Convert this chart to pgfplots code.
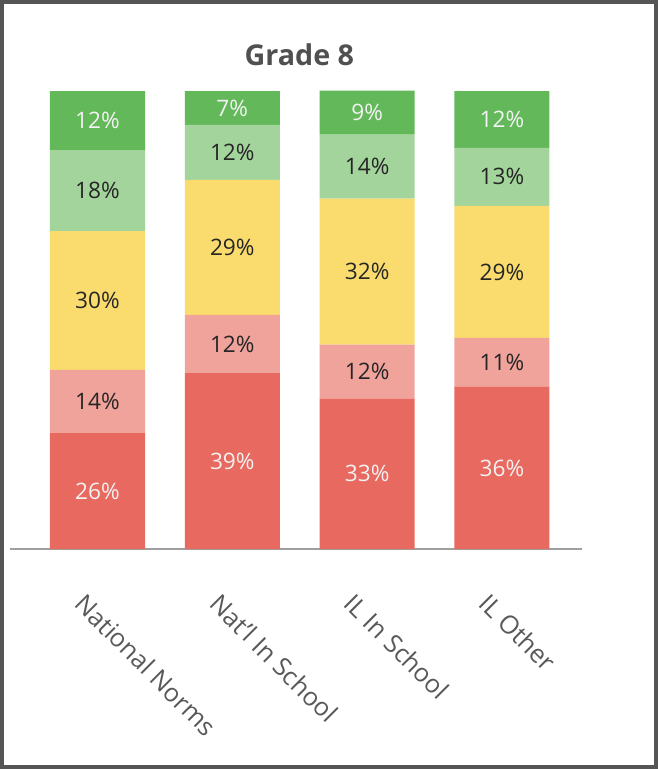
\documentclass[border=0pt]{standalone}
\usepackage{fontspec}
\setmainfont{Open Sans}
\usepackage{pgfplots}
\usepackage{pgfplotstable}
\pgfplotsset{compat=1.18}
\definecolor{cGreen}{HTML}{63B95A}
\definecolor{cLGreen}{HTML}{A3D49C}
\definecolor{cYellow}{HTML}{FADC6E}
\definecolor{cLRed}{HTML}{F0A39B}
\definecolor{cRed}{HTML}{E8695F}
\definecolor{txtdark}{HTML}{262626}
\definecolor{txtgray}{HTML}{595959}
\definecolor{framegray}{HTML}{555555}

% x = bar index, y = segment height (share of bar), lab = printed label
\pgfplotstableread{
x y lab
0 25.3 26
1 38.4 39
2 32.8 33
3 35.4 36
}\tRed
\pgfplotstableread{
x y lab
0 13.8 14
1 12.7 12
2 11.8 12
3 10.7 11
}\tLRed
\pgfplotstableread{
x y lab
0 30.3 30
1 29.5 29
2 31.9 32
3 28.8 29
}\tYellow
\pgfplotstableread{
x y lab
0 17.7 18
1 12.0 12
2 14.0 14
3 12.7 13
}\tLGreen
\pgfplotstableread{
x y lab
0 12.9 12
1 7.4 7
2 9.6 9
3 12.4 12
}\tGreen

\begin{document}
\begin{tikzpicture}
\useasboundingbox (0,0) rectangle (493.5pt,-576.75pt);
\fill[white] (0,0) rectangle (493.5pt,-576.75pt);
\node[font=\fontsize{21.5pt}{25pt}\selectfont\bfseries, text=txtgray!90!black] at (224.5pt,-41pt) {Grade 8};
\begin{axis}[
  at={(7.5pt,-411.75pt)}, anchor=south west,
  scale only axis, width=429pt, height=343.5pt,
  ybar stacked, bar width=0.705,
  xmin=-0.649, xmax=3.594, ymin=0, ymax=100,
  axis x line*=bottom, axis y line=none,
  x axis line style={draw=gray!75, line width=1.6pt},
  major tick length=0pt,
  xtick={0,1,2,3},
  xticklabels={National Norms, Nat'l In School, IL In School, IL Other},
  xticklabel style={yshift=-32pt, xshift=-8pt, rotate=-45, anchor=north west, inner sep=0pt,
    font=\fontsize{19pt}{22pt}\selectfont, text=txtgray},
  ytick=\empty,
  clip=false,
  point meta=explicit symbolic,
  nodes near coords={\pgfplotspointmeta\%},
  every node near coord/.append style={anchor=center,
    font=\fontsize{17pt}{20pt}\selectfont},
]
\addplot[fill=cRed, draw=none, nodes near coords style={text=white!95!black}] table[x=x, y=y, meta=lab] {\tRed};
\addplot[fill=cLRed, draw=none, nodes near coords style={text=txtdark}] table[x=x, y=y, meta=lab] {\tLRed};
\addplot[fill=cYellow, draw=none, nodes near coords style={text=txtdark}] table[x=x, y=y, meta=lab] {\tYellow};
\addplot[fill=cLGreen, draw=none, nodes near coords style={text=txtdark}] table[x=x, y=y, meta=lab] {\tLGreen};
\addplot[fill=cGreen, draw=none, nodes near coords style={text=white!95!black}] table[x=x, y=y, meta=lab] {\tGreen};
\end{axis}
\draw[framegray, line width=3.5pt] (1.5pt,-1.5pt) rectangle (492pt,-575.25pt);
\end{tikzpicture}
\end{document}
